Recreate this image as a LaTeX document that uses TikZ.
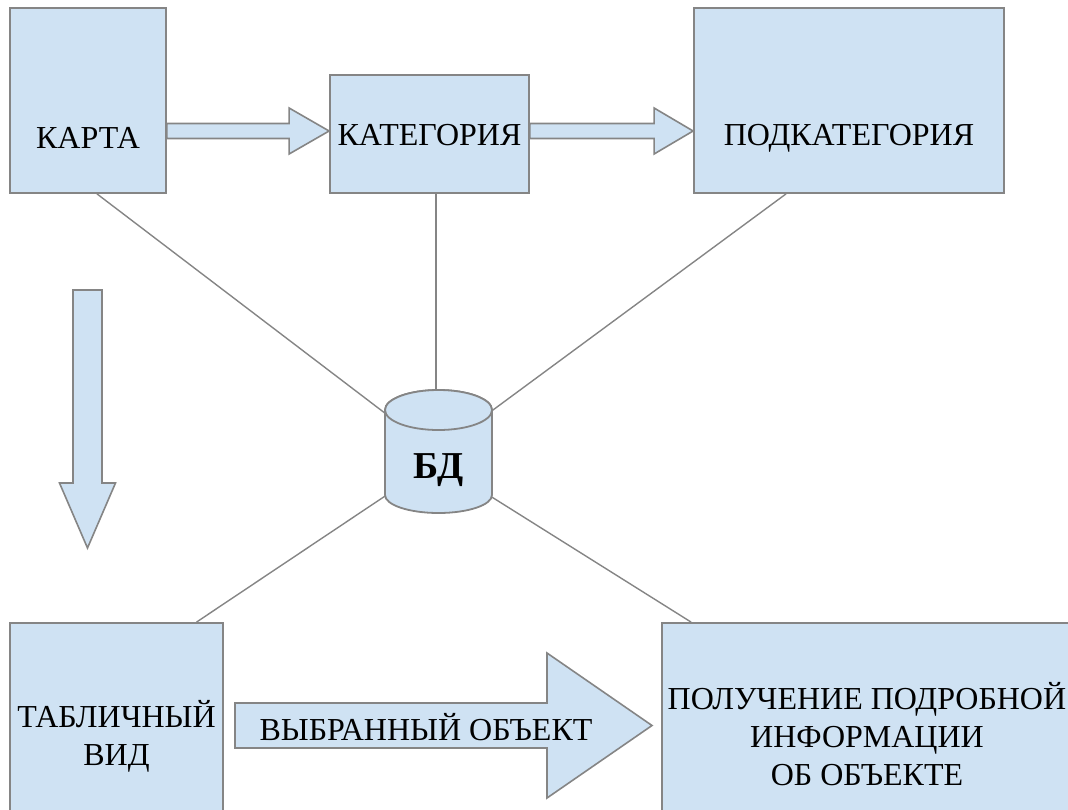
\documentclass[tikz,border=0pt]{standalone}
\usepackage{fontspec}
\setmainfont{Liberation Serif}
\usetikzlibrary{calc}

\definecolor{boxfill}{HTML}{CFE2F3}
\definecolor{boxline}{HTML}{858585}

\tikzset{
  box/.style={draw=boxline, line width=1.8pt, fill=boxfill, inner sep=0pt},
  boxtext/.style={font=\fontsize{32}{38}\selectfont, align=center, inner sep=0pt},
  link/.style={draw=boxline, line width=1.4pt},
  blockarr/.style={draw=boxline, line width=1.6pt, fill=boxfill, line join=miter},
}

% block arrow: from, to, half shaft, half head, head length
\newcommand{\blockarrow}[5]{%
  \coordinate (hb) at ($(#2)!#5!(#1)$);
  \draw[blockarr] ($(#1)!#3!90:(#2)$) -- ($(hb)!#3!90:(#2)$) -- ($(hb)!#4!90:(#2)$) -- (#2)
    -- ($(hb)!#4!-90:(#2)$) -- ($(hb)!#3!-90:(#2)$) -- ($(#1)!#3!-90:(#2)$) -- cycle;
}

\begin{document}
\begin{tikzpicture}[x=1pt, y=-1pt]
    \clip (0,0) rectangle (1068,809);

    % Boxes
    \node[box, minimum width=156pt, minimum height=185pt] (karta) at (88,100.5) {};
    \node[box, minimum width=199pt, minimum height=118pt] (kat) at (429.5,134) {};
    \node[box, minimum width=310pt, minimum height=185pt] (pod) at (849,100.5) {};
    \node[box, minimum width=213pt, minimum height=207pt] (tab) at (116.5,726.5) {};
    \node[box, minimum width=413pt, minimum height=207pt] (info) at (868.5,726.5) {};

    % Database
    \coordinate (db) at (436,452);
    \draw[link] ([xshift=9pt]karta.south) -- (db);
    \draw[link] (kat.south -| db) -- (db);
    \draw[link] ([xshift=-63pt]pod.south) -- (db);
    \draw[link] ([xshift=80pt]tab.north) -- ([yshift=-10pt]db);
    \draw[link] ([xshift=30pt]info.north west) -- ([yshift=-10pt]db);
    \filldraw[box] (385,410) -- (385,495) arc[start angle=180, end angle=360, x radius=53.5pt, y radius=18pt]
        -- (492,410) arc[start angle=0, end angle=180, x radius=53.5pt, y radius=20pt] -- cycle;
    \draw[box] (438.5,410) ellipse[x radius=53.5pt, y radius=20pt];
    \node[boxtext, font=\fontsize{38}{42}\selectfont\bfseries] (dbname) at (438.5,470) {БД};

    % Arrows
    \coordinate (a1s) at (karta.east |- 0,131);
    \coordinate (a1e) at (kat.west |- 0,131);
    \coordinate (a2s) at (kat.east |- 0,131);
    \coordinate (a2e) at (pod.west |- 0,131);
    \coordinate (a3s) at (87.5,290);
    \coordinate (a3e) at (87.5,548);
    \coordinate (a4s) at (235,725.5);
    \coordinate (a4e) at (652,725.5);
    \blockarrow{a1s}{a1e}{7.5pt}{23pt}{40pt}
    \blockarrow{a2s}{a2e}{7.5pt}{23pt}{39pt}
    \blockarrow{a3s}{a3e}{14.5pt}{28pt}{65pt}
    \blockarrow{a4s}{a4e}{22.5pt}{72.5pt}{105pt}

    % Labels
    \node[boxtext] (kartaname) at (88,138) {КАРТА};
    \node[boxtext] (katname) at (429.5,135) {КАТЕГОРИЯ};
    \node[boxtext] (podname) at (849,138) {ПОДКАТЕГОРИЯ};
    \node[boxtext] (tabname) at (116.5,736) {ТАБЛИЧНЫЙ\\ВИД};
    \node[boxtext] (infoname) at (867,734) {ПОЛУЧЕНИЕ ПОДРОБНОЙ\\ИНФОРМАЦИИ\\ОБ ОБЪЕКТЕ};
    \node[boxtext] (selname) at (426,727) {ВЫБРАННЫЙ ОБЪЕКТ};
\end{tikzpicture}
\end{document}
